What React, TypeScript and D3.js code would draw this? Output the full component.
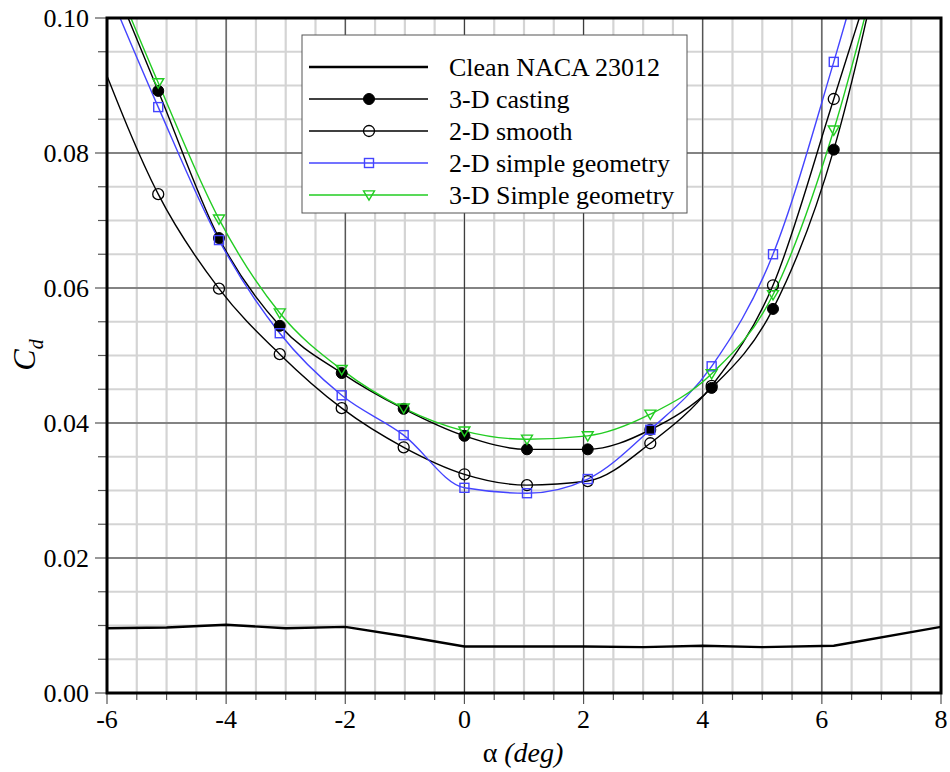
import React from "react";
import * as d3 from "d3";

const alphaPts = [-6.16, -5.14, -4.12, -3.1, -2.06, -1.02, 0, 1.05, 2.07, 3.12, 4.15, 5.18, 6.2, 7.2];
const casting3D = [0.111, 0.0892, 0.0674, 0.0544, 0.0474, 0.0421, 0.0381, 0.0361, 0.0361, 0.039, 0.0452, 0.0569, 0.0805, 0.118];
const smooth2D = [0.095, 0.0739, 0.0599, 0.0502, 0.0422, 0.0364, 0.0324, 0.0308, 0.0314, 0.037, 0.0455, 0.0604, 0.088, 0.116];
const simple2D = [0.108, 0.0868, 0.0671, 0.0533, 0.0441, 0.0382, 0.0304, 0.0296, 0.0317, 0.039, 0.0484, 0.065, 0.0935, 0.125];
const simple3D = [0.112, 0.0904, 0.0702, 0.0563, 0.0479, 0.0422, 0.0388, 0.0376, 0.0381, 0.0413, 0.0473, 0.059, 0.0834, 0.117];

const cleanAlpha = [-6, -5, -4, -3, -2, -1, 0, 1, 2, 3, 4, 5, 6.2, 8];
const cleanCd = [0.0096, 0.0097, 0.0101, 0.0096, 0.0098, 0.0084, 0.0069, 0.0069, 0.0069, 0.0068, 0.007, 0.0068, 0.007, 0.0098];

const xTicks = [-6, -4, -2, 0, 2, 4, 6, 8];
const yTicks = [0, 0.02, 0.04, 0.06, 0.08, 0.1];

const legendLabels = ["Clean NACA 23012", "3-D casting", "2-D smooth", "2-D simple geometry", "3-D Simple geometry"];

const BLUE = "#4444ff";
const GREEN = "#22cc22";

const L = 107, R = 941, T = 18, B = 693;

export default function App() {
  const x = d3.scaleLinear().domain([-6, 8]).range([L, R]);
  const y = d3.scaleLinear().domain([0, 0.1]).range([B, T]);

  const xMinor = d3.range(-6, 8.001, 0.5);
  const yMinor = d3.range(0, 0.1001, 0.005);

  const curveLine = d3
    .line<[number, number]>()
    .x((d) => x(d[0]))
    .y((d) => y(d[1]))
    .curve(d3.curveMonotoneX);
  const straightLine = d3
    .line<[number, number]>()
    .x((d) => x(d[0]))
    .y((d) => y(d[1]));

  const series = [
    { vals: casting3D, color: "#000", marker: "filled" },
    { vals: smooth2D, color: "#000", marker: "open" },
    { vals: simple2D, color: BLUE, marker: "square" },
    { vals: simple3D, color: GREEN, marker: "tri" },
  ];

  const drawMarker = (type: string, cx: number, cy: number, color: string, key: string) => {
    if (type === "filled") return <circle key={key} cx={cx} cy={cy} r={5.5} fill="#000" stroke="#000" strokeWidth={1} />;
    if (type === "open") return <circle key={key} cx={cx} cy={cy} r={5.5} fill="none" stroke="#000" strokeWidth={1.3} />;
    if (type === "square") return <rect key={key} x={cx - 4.5} y={cy - 4.5} width={9} height={9} fill="none" stroke={color} strokeWidth={1.4} />;
    const s = 5.5;
    return (
      <path
        key={key}
        d={`M${cx - s},${cy - s * 0.75} L${cx + s},${cy - s * 0.75} L${cx},${cy + s * 0.95} Z`}
        fill="none"
        stroke={color}
        strokeWidth={1.4}
      />
    );
  };

  const font = "'Liberation Serif', 'Times New Roman', serif";
  const legendY = [67, 99, 131, 163, 195];

  return (
    <svg width={950} height={772} style={{ position: "absolute", left: 0, top: 0, background: "#fff" }} fontFamily={font}>
      <defs>
        <clipPath id="plotclip">
          <rect x={L} y={T} width={R - L} height={B - T} />
        </clipPath>
      </defs>
      <rect x={0} y={0} width={950} height={772} fill="#fff" />
      {xMinor.map((v, i) => (
        <line key={"xm" + i} x1={x(v)} x2={x(v)} y1={T} y2={B} stroke="#d4d4d4" strokeWidth={2.2} />
      ))}
      {yMinor.map((v, i) => (
        <line key={"ym" + i} x1={L} x2={R} y1={y(v)} y2={y(v)} stroke="#d4d4d4" strokeWidth={2.2} />
      ))}
      {xTicks.map((v, i) => (
        <line key={"xM" + i} x1={x(v)} x2={x(v)} y1={T} y2={B} stroke="#333" strokeWidth={1} />
      ))}
      {yTicks.map((v, i) => (
        <line key={"yM" + i} x1={L} x2={R} y1={y(v)} y2={y(v)} stroke="#333" strokeWidth={1} />
      ))}
      {xMinor.map((v, i) => {
        const major = Math.abs(v - Math.round(v / 2) * 2) < 1e-6;
        return <line key={"xt" + i} x1={x(v)} x2={x(v)} y1={B} y2={B + (major ? 11 : 7)} stroke="#555" strokeWidth={1.2} />;
      })}
      {yMinor.map((v, i) => {
        const major = Math.abs(v / 0.02 - Math.round(v / 0.02)) < 1e-6;
        return <line key={"yt" + i} x1={L - (major ? 12 : 9)} x2={L} y1={y(v)} y2={y(v)} stroke="#555" strokeWidth={1.2} />;
      })}
      <g clipPath="url(#plotclip)">
        <path
          d={straightLine(cleanAlpha.map((a, i) => [a, cleanCd[i]] as [number, number])) || ""}
          fill="none"
          stroke="#000"
          strokeWidth={2.4}
        />
        {series.map((s, si) => (
          <path
            key={"s" + si}
            d={curveLine(alphaPts.map((a, i) => [a, s.vals[i]] as [number, number])) || ""}
            fill="none"
            stroke={s.color}
            strokeWidth={1.4}
          />
        ))}
        {series.map((s, si) =>
          alphaPts.map((a, i) => drawMarker(s.marker, x(a), y(s.vals[i]), s.color, `m${si}-${i}`))
        )}
      </g>
      <rect x={L} y={T} width={R - L} height={B - T} fill="none" stroke="#000" strokeWidth={3} />
      {yTicks.map((v, i) => (
        <text key={"yl" + i} x={89} y={y(v) + 9} textAnchor="end" fontSize={26}>
          {d3.format(".2f")(v)}
        </text>
      ))}
      {xTicks.map((v, i) => (
        <text key={"xl" + i} x={x(v)} y={728} textAnchor="middle" fontSize={26}>
          {v}
        </text>
      ))}
      <text x={523} y={762} textAnchor="middle" fontSize={28}>
        <tspan>α </tspan>
        <tspan fontStyle="italic">(deg)</tspan>
      </text>
      <text transform="translate(35,355) rotate(-90)" textAnchor="middle" fontSize={32} fontStyle="italic">
        <tspan>C</tspan>
        <tspan fontSize={20} dy={8}>d</tspan>
      </text>
      <rect x={302} y={35} width={385} height={178} fill="#fff" stroke="#555" strokeWidth={1} />
      {legendLabels.map((lab, i) => {
        const ly = legendY[i];
        const color = i === 0 ? "#000" : series[i - 1].color;
        return (
          <g key={"lg" + i}>
            <line x1={309} x2={428} y1={ly} y2={ly} stroke={color} strokeWidth={i === 0 ? 2.4 : 1.4} />
            {i > 0 && drawMarker(series[i - 1].marker, 369, ly, color, "lm" + i)}
            <text x={449} y={ly + 9} fontSize={26}>
              {lab}
            </text>
          </g>
        );
      })}
    </svg>
  );
}
